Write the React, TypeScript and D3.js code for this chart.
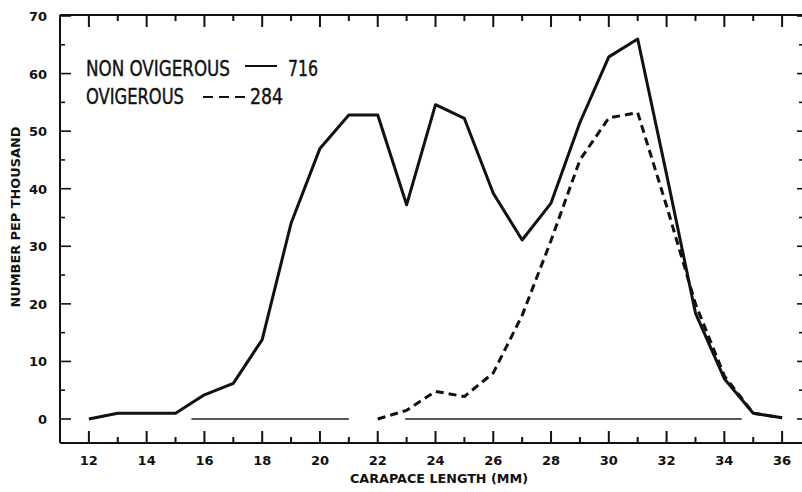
import React from "react";
import * as d3 from "d3";

const lengths = [12, 13, 14, 15, 16, 17, 18, 19, 20, 21, 22, 23, 24, 25, 26, 27, 28, 29, 30, 31, 32, 33, 34, 35, 36];
const nonOvigerous = [0, 1, 1, 1, 4.2, 6.2, 13.8, 34, 47, 52.8, 52.8, 37.2, 54.6, 52.2, 39.2, 31.1, 37.5, 51.5, 62.9, 66, 42.5, 18.4, 7, 1, 0.2];
const ovigLengths = [22, 23, 24, 25, 26, 27, 28, 29, 30, 31, 32, 33, 34, 35, 36];
const ovigerous = [0, 1.5, 4.8, 3.9, 8, 18, 31, 45, 52.3, 53.2, 37, 20, 7.5, 1, 0.2];
const baselineSegments = [[15.55, 21.0], [22.95, 34.6]];
const xTicks = d3.range(12, 37, 1);
const xTickLabels = d3.range(12, 37, 2);
const yTicks = d3.range(0, 71, 5);
const yTickLabels = d3.range(0, 71, 10);

const W = 802, H = 492;
const L = 60, T = 15, B = 443, R = 802;

export default function App() {
  const x = d3.scaleLinear().domain([11, 37]).range([L, 811]);
  const y = d3.scaleLinear().domain([0, 70]).range([419, 16]);
  const line = d3.line<[number, number]>().x(d => x(d[0])).y(d => y(d[1]));
  const solidPath = line(lengths.map((l, i) => [l, nonOvigerous[i]]))!;
  const dashPath = line(ovigLengths.map((l, i) => [l, ovigerous[i]]))!;
  const font = "'DejaVu Sans', sans-serif";
  const legendFont = "'DejaVu Sans Condensed', 'DejaVu Sans', sans-serif";
  const col = "#111";
  return (
    <svg width={W} height={H} style={{ position: "absolute", left: 0, top: 0, background: "#fff" }}>
      <rect x={0} y={0} width={W} height={H} fill="#fff" />
      <line x1={L} y1={T} x2={R} y2={T} stroke={col} strokeWidth={2} />
      <line x1={L} y1={B} x2={R} y2={B} stroke={col} strokeWidth={2} />
      <line x1={L} y1={T} x2={L} y2={B} stroke={col} strokeWidth={2} />
      {xTicks.map(t => {
        const major = t % 2 === 0;
        return (
          <g key={"xt" + t}>
            <line x1={x(t)} x2={x(t)} y1={T} y2={T + (major ? 12 : 6)} stroke={col} strokeWidth={2} />
            <line x1={x(t)} x2={x(t)} y1={B} y2={B - (major ? 12 : 6)} stroke={col} strokeWidth={2} />
          </g>
        );
      })}
      {yTicks.map(t => {
        const major = t % 10 === 0;
        return (
          <g key={"yt" + t}>
            <line x1={L} x2={L + (major ? 11 : 5)} y1={y(t)} y2={y(t)} stroke={col} strokeWidth={1.6} />
            <line x1={R} x2={R - (major ? 5 : 3)} y1={y(t)} y2={y(t)} stroke={col} strokeWidth={1.6} />
          </g>
        );
      })}
      {xTickLabels.map(t => (
        <text key={"xl" + t} x={x(t)} y={465} textAnchor="middle" fontFamily={font} fontWeight="bold" fontSize={13} fill={col}>{t}</text>
      ))}
      {yTickLabels.map(t => (
        <text key={"yl" + t} x={47} y={y(t) + 5} textAnchor="end" fontFamily={font} fontWeight="bold" fontSize={13} fill={col}>{t}</text>
      ))}
      <text x={439} y={483} textAnchor="middle" fontFamily={font} fontWeight="bold" fontSize={12} fill={col} textLength={178} lengthAdjust="spacingAndGlyphs">CARAPACE LENGTH (MM)</text>
      <text transform="translate(20,217) rotate(-90)" textAnchor="middle" fontFamily={font} fontWeight="bold" fontSize={12} fill={col} textLength={181} lengthAdjust="spacingAndGlyphs">NUMBER PEP THOUSAND</text>
      {baselineSegments.map((s, i) => (
        <line key={"bs" + i} x1={x(s[0])} x2={x(s[1])} y1={y(0)} y2={y(0)} stroke="#222" strokeWidth={1.3} />
      ))}
      <path d={dashPath} fill="none" stroke={col} strokeWidth={3} strokeDasharray="8,5" strokeLinejoin="round" />
      <path d={solidPath} fill="none" stroke={col} strokeWidth={3} strokeLinejoin="round" />
      <text x={86} y={76} fontFamily={legendFont} fontSize={22} fill={col} stroke={col} strokeWidth={0.4} textLength={144} lengthAdjust="spacingAndGlyphs">NON OVIGEROUS</text>
      <line x1={245} x2={277} y1={66} y2={66} stroke={col} strokeWidth={2} />
      <text x={288} y={76} fontFamily={legendFont} fontSize={22} fill={col} stroke={col} strokeWidth={0.4} textLength={30} lengthAdjust="spacingAndGlyphs">716</text>
      <text x={86} y={104} fontFamily={legendFont} fontSize={22} fill={col} stroke={col} strokeWidth={0.4} textLength={98} lengthAdjust="spacingAndGlyphs">OVIGEROUS</text>
      <line x1={203} x2={245} y1={97} y2={97} stroke={col} strokeWidth={2} strokeDasharray="10,6" />
      <text x={250} y={104} fontFamily={legendFont} fontSize={22} fill={col} stroke={col} strokeWidth={0.4} textLength={33} lengthAdjust="spacingAndGlyphs">284</text>
    </svg>
  );
}
